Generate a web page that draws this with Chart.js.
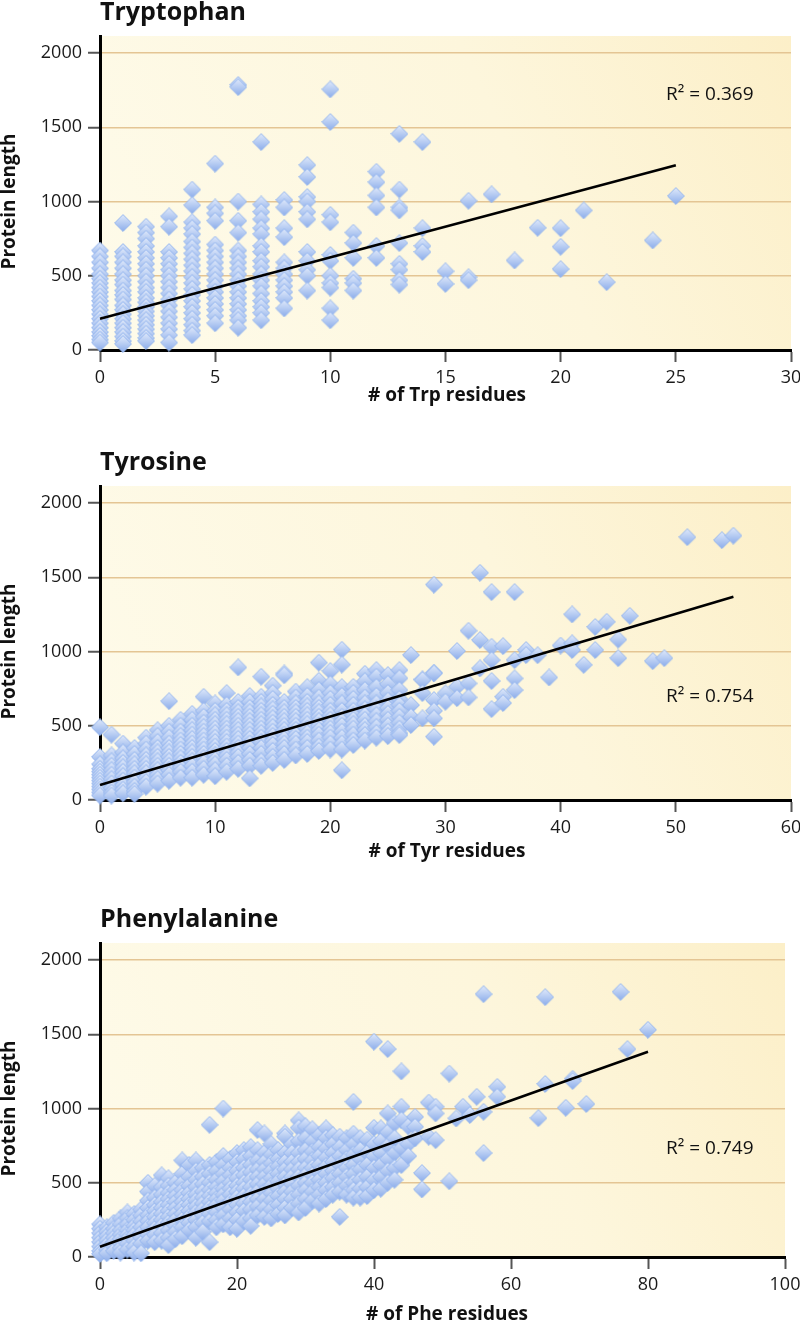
<!DOCTYPE html>
<html><head><meta charset="utf-8">
<script src="https://cdn.jsdelivr.net/npm/chart.js@4.4.1/dist/chart.umd.min.js"></script>
<style>
html,body{margin:0;padding:0;background:#fff;overflow:hidden;width:800px;height:1322px;}
canvas{position:absolute;left:0;}
</style></head><body>
<canvas id="c1" width="800" height="430" style="top:0px"></canvas>
<canvas id="c2" width="800" height="430" style="top:450px"></canvas>
<canvas id="c3" width="800" height="430" style="top:907px"></canvas>
<script>
// ---------- DATA ----------
const panelTitles = ['Tryptophan', 'Tyrosine', 'Phenylalanine'];
const xAxisTitles = ['# of Trp residues', '# of Tyr residues', '# of Phe residues'];
const yAxisTitle = 'Protein length';
const rSquared = ['0.369', '0.754', '0.749'];
const yTicks = [0, 500, 1000, 1500, 2000];
const trpTicks = [0, 5, 10, 15, 20, 25, 30];
const tyrTicks = [0, 10, 20, 30, 40, 50, 60];
const pheTicks = [0, 20, 40, 60, 80, 100];

const trpCounts = [0,1,2,3,4,5,6,7,8,9,10,11,12,13,14,15,16,17,18,19,20,21,22,24,25];
const trpLengths = [
  [670,630,590,550,510,480,450,420,390,360,330,300,270,240,210,180,150,120,95,70,50],
  [855,660,630,590,550,510,470,440,400,370,340,300,270,240,210,180,150,120,90,60,40],
  [830,790,750,700,660,620,580,540,500,460,420,390,350,320,290,260,230,200,170,140,110,80,60],
  [900,830,660,620,580,540,500,460,420,380,340,300,260,220,180,140,100,50],
  [1080,975,860,820,780,730,690,650,610,570,530,490,450,410,370,330,290,250,210,170,130,100],
  [1255,960,920,870,710,670,630,590,550,510,470,430,390,350,310,270,230,180],
  [1785,1770,1000,870,790,670,630,590,550,510,470,430,390,350,310,270,230,200,150],
  [1400,980,930,880,820,780,700,660,600,560,510,470,430,380,330,290,250,200],
  [1010,960,820,760,590,550,510,470,430,390,350,280],
  [1245,1165,1030,1000,930,880,660,600,540,500,400],
  [1755,1535,910,860,640,600,500,450,420,280,200],
  [790,720,620,480,450,400],
  [1200,1130,1040,960,700,620],
  [1455,1080,960,940,720,580,540,470,440],
  [1400,820,700,660],
  [530,445],
  [1005,490,470],
  [1048],
  [603],
  [823],
  [820,695,545],
  [940],
  [457],
  [738],
  [1037]
];
const trpFit = [[0, 211], [25, 1244]];

const tyrCounts = [0,1,2,3,4,5,6,7,8,9,10,11,12,13,14,15,16,17,18,19,20,21,22,23,24,25,26,27,28,29,30,31,32,33,34,35,36,37,38,39,40,41,42,43,44,45,46,48,49,51,54,55];
const tyrLengths = [
  [490,290,240,210,190,170,150,130,110,90,70,50,30],
  [440,300,260,230,200,170,140,110,80,50,30],
  [380,320,280,250,220,190,160,130,100,70,45],
  [350,310,270,240,210,180,150,120,90,60,40],
  [420,380,340,300,270,240,210,180,150,120,90],
  [470,430,390,350,320,290,260,230,200,170,140,110],
  [665,500,460,420,380,350,320,290,260,230,200,170,130],
  [540,500,460,430,400,370,340,310,280,250,220,190,150],
  [580,540,500,470,440,410,380,350,320,290,260,230,190,150],
  [695,600,560,520,490,460,430,400,370,340,310,280,250,210,170],
  [650,600,570,540,510,480,450,420,390,360,330,300,270,240,200,160],
  [720,640,600,570,540,510,480,450,420,390,360,330,300,270,230,190],
  [893,660,620,590,560,530,500,470,440,410,380,350,320,290,250,210],
  [700,660,620,590,560,530,500,470,440,410,380,350,310,270,230,146],
  [830,695,660,630,600,570,540,510,480,450,420,390,350,310,260,230],
  [770,720,680,640,610,580,550,520,490,460,430,400,370,330,290,250],
  [852,840,660,620,590,560,530,500,470,440,410,380,350,310,270],
  [730,690,650,620,590,560,530,500,470,440,410,380,340,300],
  [760,700,660,630,600,570,540,510,480,450,420,390,350,310],
  [925,803,740,690,650,620,590,560,530,500,470,440,400,360,330],
  [868,780,720,680,640,600,570,540,510,480,450,420,380,340],
  [1012,912,760,700,650,600,560,530,500,460,420,380,340,200],
  [762,720,680,640,600,570,540,510,480,440,400,370],
  [850,800,740,690,650,610,570,540,500,470,437,400],
  [875,830,760,700,650,610,570,530,490,450,420],
  [841,780,720,670,620,580,540,500,460,430],
  [875,820,740,680,640,600,560,520,480,450,437],
  [976,639,560,505],
  [812,808,720,550],
  [1450,857,853,673,601,550,426],
  [718,662],
  [1003,763,686],
  [1140,785,691],
  [1530,1077,886],
  [1400,1032,942,801,612],
  [1036,695,653],
  [1400,942,819,740],
  [1010,976],
  [975],
  [825],
  [1040],
  [1250,1055,1010],
  [910],
  [1165,1010],
  [1200],
  [1080,955],
  [1240],
  [935],
  [955],
  [1770],
  [1750],
  [1780]
];
const tyrFit = [[0, 101], [55, 1368]];

const pheCounts = [0,1,2,3,4,5,6,7,8,9,10,11,12,13,14,15,16,17,18,19,20,21,22,23,24,25,26,27,28,29,30,31,32,33,34,35,36,37,38,39,40,41,42,43,44,45,46,47,48,49,51,52,53,54,55,56,58,64,65,68,69,71,76,77,80];
const pheLengths = [
  [220,190,160,130,100,70,40,20],
  [200,170,140,110,80,50,25],
  [230,190,160,130,100,70,40],
  [260,220,180,150,120,90,60,30],
  [300,260,220,180,150,120,90,50],
  [290,250,210,180,150,110,70,30],
  [320,280,240,200,160,130,90,25],
  [500,440,380,330,280,240,200,150,110],
  [480,400,350,310,270,230,190,150,100],
  [550,470,420,370,330,290,250,210,160,110],
  [530,480,430,390,350,310,270,230,180,130,80],
  [500,450,410,370,330,290,250,210,170,120],
  [650,560,500,450,410,370,330,290,250,200,140],
  [620,540,480,430,390,350,310,270,230,180],
  [650,580,520,470,420,380,340,300,250,200,130],
  [600,540,490,440,400,360,320,280,230,170],
  [890,620,560,500,450,410,370,330,290,240,100],
  [640,580,520,470,430,390,350,300,250,200],
  [1000,680,620,560,510,460,420,380,330,280,220],
  [660,600,550,500,460,420,370,320,260,200],
  [700,640,580,530,480,440,400,350,300,250,190],
  [720,660,600,550,500,460,410,360,310,240],
  [740,680,620,570,520,470,420,370,320,260,210],
  [855,720,650,590,540,490,440,390,340,280],
  [832,700,640,590,540,490,440,390,330,270],
  [760,690,630,580,530,480,430,380,320,260],
  [720,660,610,560,510,460,410,350,290],
  [832,810,700,640,590,540,490,440,390,330,280],
  [760,700,640,590,540,490,440,390,330],
  [920,870,780,700,640,590,540,480,420,360,300],
  [880,800,720,660,600,550,500,450,390,330],
  [860,780,710,650,600,550,500,440,380],
  [820,740,680,620,570,520,470,420,360],
  [866,800,730,670,610,560,500,450,390],
  [820,760,700,640,580,530,470,420],
  [810,740,680,620,560,500,440,270],
  [800,720,660,600,540,480,420],
  [1045,830,760,690,620,560,500,450,400],
  [800,720,660,590,520,460,400],
  [790,700,620,540,470,410],
  [1450,870,760,680,600,520,450],
  [866,780,700,620,540,460],
  [1400,967,840,750,660,580,500],
  [900,800,700,600,520],
  [1250,1012,922,732,619],
  [880,760,680],
  [944,877,799],
  [565,455],
  [1040,810],
  [1012,967,787],
  [1235,510],
  [933],
  [1012],
  [956],
  [1079],
  [1770,978,700],
  [1146,1079],
  [935],
  [1750,1165],
  [1005],
  [1200,1185],
  [1030],
  [1785],
  [1400],
  [1530]
];
const pheFit = [[0, 69], [80, 1382]];

// ---------- RENDERING ----------
const FONT = '"Open Sans", "DejaVu Sans", sans-serif';

function diamondImage() {
  const c = document.createElement('canvas');
  c.width = 18; c.height = 18;
  const g = c.getContext('2d');
  const grad = g.createLinearGradient(0, 0, 0, 18);
  grad.addColorStop(0, '#e3ecfb');
  grad.addColorStop(1, '#89abea');
  g.beginPath();
  g.moveTo(9, 0.6); g.lineTo(17.4, 9); g.lineTo(9, 17.4); g.lineTo(0.6, 9); g.closePath();
  g.fillStyle = grad; g.fill();
  g.strokeStyle = '#93b4ee'; g.lineWidth = 1; g.stroke();
  return c;
}
const diamond = diamondImage();

const decoPlugin = {
  id: 'deco',
  beforeDraw(chart, args, o) {
    const {ctx, chartArea: a} = chart;
    ctx.save();
    const g = ctx.createLinearGradient(a.left, a.bottom, a.right, a.top);
    g.addColorStop(0, '#fefbea');
    g.addColorStop(0.6, '#fdf6dc');
    g.addColorStop(1, '#fcefc8');
    ctx.fillStyle = g;
    ctx.fillRect(a.left, a.top, a.right - a.left, a.bottom - a.top);
    ctx.restore();
  },
  afterDraw(chart, args, o) {
    const {ctx, chartArea: a, scales} = chart;
    ctx.save();
    ctx.fillStyle = '#111';
    ctx.font = 'bold 25px ' + FONT;
    ctx.textAlign = 'left'; ctx.textBaseline = 'alphabetic';
    ctx.fillText(o.title, a.left, a.top - 16.5);
    const yc = (scales.y.getPixelForValue(0) + scales.y.getPixelForValue(2000)) / 2;
    ctx.save();
    ctx.translate(15, yc);
    ctx.rotate(-Math.PI / 2);
    ctx.font = 'bold 19px ' + FONT;
    ctx.textAlign = 'center';
    ctx.fillText(o.yTitle, 0, 0);
    ctx.restore();
    ctx.font = 'bold 19px ' + FONT;
    ctx.textAlign = 'center';
    ctx.fillText(o.xTitle, 447, a.bottom + o.xTitleOffset);
    ctx.font = '19px ' + FONT;
    ctx.textAlign = 'left';
    ctx.fillText('R² = ' + o.r2, 666, a.top + o.r2Offset);
    ctx.restore();
  }
};

function makeChart(id, counts, lengths, fit, ticksX, rightPad, idx, xTitleOffset, r2Offset) {
  const pts = [];
  counts.forEach((c, i) => lengths[i].forEach(v => pts.push({x: c, y: v})));
  const fitPts = fit.map(p => ({x: p[0], y: p[1]}));
  const xMax = ticksX[ticksX.length - 1];
  return new Chart(document.getElementById(id), {
    type: 'scatter',
    data: {
      datasets: [
        {type: 'line', data: fitPts, borderColor: '#000', borderWidth: 2.6, pointRadius: 0, fill: false, order: 0, clip: false},
        {type: 'scatter', data: pts, pointStyle: diamond, pointRadius: 8, order: 1, clip: false}
      ]
    },
    options: {
      responsive: false,
      animation: false,
      devicePixelRatio: 1,
      layout: {padding: {top: 36, right: rightPad, bottom: 0, left: 0}},
      plugins: {
        legend: {display: false},
        tooltip: {enabled: false},
        title: {display: false},
        deco: {title: panelTitles[idx], xTitle: xAxisTitles[idx], yTitle: yAxisTitle, r2: rSquared[idx], xTitleOffset, r2Offset}
      },
      scales: {
        x: {
          type: 'linear', min: 0, max: xMax,
          afterFit(s) { s.height = 80; s.paddingLeft = 0; s.paddingRight = 0; },
          afterBuildTicks(s) { s.ticks = ticksX.map(v => ({value: v})); },
          ticks: {padding: 5, color: '#1a1a1a', font: {family: FONT, size: 18}, callback: v => String(v)},
          grid: {drawOnChartArea: false, drawTicks: true, tickLength: 12, tickColor: '#555', tickWidth: 2},
          border: {display: true, color: '#000', width: 3}
        },
        y: {
          type: 'linear', min: 0, max: 2114.5,
          afterFit(s) { s.width = 100; s.paddingTop = 0; s.paddingBottom = 0; },
          afterBuildTicks(s) { s.ticks = yTicks.map(v => ({value: v})); },
          ticks: {padding: 6, color: '#1a1a1a', font: {family: FONT, size: 18}, callback: v => String(v)},
          grid: {drawOnChartArea: true, color: '#e4c594', lineWidth: 1.5, drawTicks: true, tickLength: 12, tickColor: '#555', tickWidth: 2},
          border: {display: true, color: '#000', width: 3}
        }
      }
    },
    plugins: [decoPlugin]
  });
}

makeChart('c1', trpCounts, trpLengths, trpFit, trpTicks, 9, 0, 51, 64);
makeChart('c2', tyrCounts, tyrLengths, tyrFit, tyrTicks, 9, 1, 57, 216);
makeChart('c3', pheCounts, pheLengths, pheFit, pheTicks, 15, 2, 63, 211);
</script>
</body></html>
